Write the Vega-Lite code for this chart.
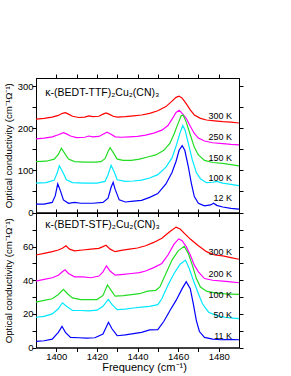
{
  "$schema": "https://vega.github.io/schema/vega-lite/v6.json",
  "padding": {"top": 73, "left": 2, "right": 2, "bottom": 0},
  "spacing": 0,
  "bounds": "flush",
  "config": {
    "font": "Arial",
    "view": {"stroke": "black", "strokeWidth": 1},
    "axis": {"domainColor": "black", "tickColor": "black", "labelColor": "black", "titleColor": "black", "labelFont": "Liberation Sans Narrow, Arial", "titleFont": "Arial", "labelFontSize": 9.5, "titleFontSize": 9.7, "titleFontWeight": "normal", "grid": false, "tickWidth": 1, "domainWidth": 1, "tickSize": 4},
    "text": {"font": "Arial"}
  },
  "resolve": {"scale": {"color": "independent"}},
  "datasets": {
    "top": [
      {"s":"300 K","f":1390,"v":222},{"s":"300 K","f":1394,"v":224},{"s":"300 K","f":1398,"v":227},{"s":"300 K","f":1401,"v":231},{"s":"300 K","f":1403,"v":236},{"s":"300 K","f":1404.5,"v":237.5},{"s":"300 K","f":1406,"v":234},{"s":"300 K","f":1408,"v":229},{"s":"300 K","f":1411,"v":226},{"s":"300 K","f":1414,"v":227},{"s":"300 K","f":1416,"v":230},{"s":"300 K","f":1418,"v":228},{"s":"300 K","f":1421,"v":229},{"s":"300 K","f":1423,"v":234},{"s":"300 K","f":1424.5,"v":237},{"s":"300 K","f":1426,"v":234},{"s":"300 K","f":1428,"v":229},{"s":"300 K","f":1430,"v":227},{"s":"300 K","f":1434,"v":228},{"s":"300 K","f":1438,"v":230},{"s":"300 K","f":1442,"v":232},{"s":"300 K","f":1446,"v":236},{"s":"300 K","f":1450,"v":242},{"s":"300 K","f":1454,"v":252},{"s":"300 K","f":1457,"v":265},{"s":"300 K","f":1459,"v":274},{"s":"300 K","f":1460.5,"v":277},{"s":"300 K","f":1462,"v":272},{"s":"300 K","f":1464,"v":259},{"s":"300 K","f":1466,"v":244},{"s":"300 K","f":1468,"v":232},{"s":"300 K","f":1471,"v":224},{"s":"300 K","f":1474,"v":220},{"s":"300 K","f":1478,"v":218},{"s":"300 K","f":1482,"v":216},{"s":"300 K","f":1486,"v":215},{"s":"300 K","f":1490,"v":213},
      {"s":"250 K","f":1390,"v":175},{"s":"250 K","f":1394,"v":177},{"s":"250 K","f":1398,"v":180},{"s":"250 K","f":1401,"v":185},{"s":"250 K","f":1403.5,"v":190},{"s":"250 K","f":1405,"v":187},{"s":"250 K","f":1407,"v":182},{"s":"250 K","f":1410,"v":178},{"s":"250 K","f":1414,"v":179},{"s":"250 K","f":1416,"v":182},{"s":"250 K","f":1418,"v":180},{"s":"250 K","f":1421,"v":181},{"s":"250 K","f":1423,"v":186},{"s":"250 K","f":1425,"v":191},{"s":"250 K","f":1427,"v":186},{"s":"250 K","f":1429,"v":180},{"s":"250 K","f":1432,"v":179},{"s":"250 K","f":1436,"v":180},{"s":"250 K","f":1440,"v":181},{"s":"250 K","f":1444,"v":184},{"s":"250 K","f":1448,"v":189},{"s":"250 K","f":1452,"v":196},{"s":"250 K","f":1455,"v":207},{"s":"250 K","f":1457,"v":222},{"s":"250 K","f":1459,"v":238},{"s":"250 K","f":1460.5,"v":243},{"s":"250 K","f":1462,"v":236},{"s":"250 K","f":1464,"v":224},{"s":"250 K","f":1466,"v":205},{"s":"250 K","f":1468,"v":188},{"s":"250 K","f":1470,"v":177},{"s":"250 K","f":1473,"v":170},{"s":"250 K","f":1477,"v":166},{"s":"250 K","f":1482,"v":164},{"s":"250 K","f":1486,"v":162},{"s":"250 K","f":1490,"v":161},
      {"s":"150 K","f":1390,"v":121},{"s":"150 K","f":1395,"v":122},{"s":"150 K","f":1399,"v":127},{"s":"150 K","f":1401,"v":138},{"s":"150 K","f":1402.5,"v":153},{"s":"150 K","f":1404,"v":142},{"s":"150 K","f":1406,"v":127},{"s":"150 K","f":1409,"v":121},{"s":"150 K","f":1414,"v":120},{"s":"150 K","f":1419,"v":120},{"s":"150 K","f":1422,"v":121},{"s":"150 K","f":1424,"v":128},{"s":"150 K","f":1425.5,"v":145},{"s":"150 K","f":1426.5,"v":154},{"s":"150 K","f":1428,"v":143},{"s":"150 K","f":1430,"v":127},{"s":"150 K","f":1433,"v":124},{"s":"150 K","f":1437,"v":124},{"s":"150 K","f":1441,"v":127},{"s":"150 K","f":1445,"v":132},{"s":"150 K","f":1449,"v":137},{"s":"150 K","f":1453,"v":148},{"s":"150 K","f":1456,"v":165},{"s":"150 K","f":1458,"v":187},{"s":"150 K","f":1460,"v":212},{"s":"150 K","f":1461.5,"v":230},{"s":"150 K","f":1462.5,"v":232},{"s":"150 K","f":1464,"v":215},{"s":"150 K","f":1466,"v":185},{"s":"150 K","f":1468,"v":155},{"s":"150 K","f":1470,"v":137},{"s":"150 K","f":1473,"v":124},{"s":"150 K","f":1477,"v":119},{"s":"150 K","f":1482,"v":117},{"s":"150 K","f":1486,"v":114},{"s":"150 K","f":1490,"v":111},
      {"s":"100 K","f":1390,"v":70},{"s":"100 K","f":1395,"v":71},{"s":"100 K","f":1399,"v":77},{"s":"100 K","f":1400.5,"v":95},{"s":"100 K","f":1401.5,"v":111},{"s":"100 K","f":1403,"v":98},{"s":"100 K","f":1405,"v":78},{"s":"100 K","f":1408,"v":71},{"s":"100 K","f":1414,"v":70},{"s":"100 K","f":1420,"v":70},{"s":"100 K","f":1424,"v":74},{"s":"100 K","f":1425.5,"v":90},{"s":"100 K","f":1427,"v":112},{"s":"100 K","f":1428.5,"v":97},{"s":"100 K","f":1430,"v":78},{"s":"100 K","f":1434,"v":74},{"s":"100 K","f":1438,"v":75},{"s":"100 K","f":1442,"v":77},{"s":"100 K","f":1446,"v":82},{"s":"100 K","f":1450,"v":90},{"s":"100 K","f":1454,"v":108},{"s":"100 K","f":1457,"v":130},{"s":"100 K","f":1459,"v":158},{"s":"100 K","f":1461,"v":190},{"s":"100 K","f":1462.3,"v":207},{"s":"100 K","f":1463.5,"v":195},{"s":"100 K","f":1465,"v":165},{"s":"100 K","f":1467,"v":125},{"s":"100 K","f":1469,"v":95},{"s":"100 K","f":1471,"v":80},{"s":"100 K","f":1474,"v":71},{"s":"100 K","f":1477,"v":72},{"s":"100 K","f":1479,"v":74},{"s":"100 K","f":1482,"v":70},{"s":"100 K","f":1486,"v":67},{"s":"100 K","f":1490,"v":64},
      {"s":"12 K","f":1390,"v":20},{"s":"12 K","f":1394,"v":20},{"s":"12 K","f":1398,"v":24},{"s":"12 K","f":1399.5,"v":40},{"s":"12 K","f":1400.7,"v":68},{"s":"12 K","f":1402,"v":52},{"s":"12 K","f":1403.5,"v":30},{"s":"12 K","f":1406,"v":22},{"s":"12 K","f":1409,"v":24},{"s":"12 K","f":1412,"v":22},{"s":"12 K","f":1418,"v":22},{"s":"12 K","f":1423,"v":24},{"s":"12 K","f":1425.5,"v":34},{"s":"12 K","f":1427,"v":60},{"s":"12 K","f":1428,"v":72},{"s":"12 K","f":1429,"v":55},{"s":"12 K","f":1431,"v":30},{"s":"12 K","f":1434,"v":25},{"s":"12 K","f":1438,"v":27},{"s":"12 K","f":1442,"v":29},{"s":"12 K","f":1446,"v":36},{"s":"12 K","f":1450,"v":45},{"s":"12 K","f":1454,"v":68},{"s":"12 K","f":1457,"v":95},{"s":"12 K","f":1459,"v":122},{"s":"12 K","f":1460.5,"v":148},{"s":"12 K","f":1462,"v":159},{"s":"12 K","f":1463.3,"v":148},{"s":"12 K","f":1465,"v":110},{"s":"12 K","f":1466.5,"v":70},{"s":"12 K","f":1468,"v":38},{"s":"12 K","f":1470,"v":22},{"s":"12 K","f":1473,"v":16},{"s":"12 K","f":1476,"v":18},{"s":"12 K","f":1477.5,"v":22},{"s":"12 K","f":1479,"v":17},{"s":"12 K","f":1482,"v":13},{"s":"12 K","f":1486,"v":10},{"s":"12 K","f":1490,"v":8}
    ],
    "bottom": [
      {"s":"300 K","f":1390,"v":55},{"s":"300 K","f":1394,"v":56},{"s":"300 K","f":1398,"v":57},{"s":"300 K","f":1401,"v":58},{"s":"300 K","f":1403,"v":59},{"s":"300 K","f":1404.8,"v":60.5},{"s":"300 K","f":1406.5,"v":58.5},{"s":"300 K","f":1409,"v":57.5},{"s":"300 K","f":1413,"v":58},{"s":"300 K","f":1417,"v":58.5},{"s":"300 K","f":1421,"v":59},{"s":"300 K","f":1423,"v":60},{"s":"300 K","f":1424.5,"v":60.8},{"s":"300 K","f":1426.5,"v":58.5},{"s":"300 K","f":1429,"v":57},{"s":"300 K","f":1432,"v":57.8},{"s":"300 K","f":1436,"v":58.5},{"s":"300 K","f":1440,"v":59.2},{"s":"300 K","f":1444,"v":60.5},{"s":"300 K","f":1448,"v":62.5},{"s":"300 K","f":1452,"v":65},{"s":"300 K","f":1456,"v":69},{"s":"300 K","f":1459,"v":71.6},{"s":"300 K","f":1461,"v":70.5},{"s":"300 K","f":1463,"v":68},{"s":"300 K","f":1466,"v":64.5},{"s":"300 K","f":1470,"v":60.5},{"s":"300 K","f":1474,"v":57},{"s":"300 K","f":1478,"v":55},{"s":"300 K","f":1482,"v":54.5},{"s":"300 K","f":1486,"v":53.5},{"s":"300 K","f":1490,"v":52.5},
      {"s":"200 K","f":1390,"v":39.5},{"s":"200 K","f":1394,"v":40.5},{"s":"200 K","f":1398,"v":41.5},{"s":"200 K","f":1401,"v":43},{"s":"200 K","f":1403,"v":45},{"s":"200 K","f":1404.3,"v":46.2},{"s":"200 K","f":1406,"v":44},{"s":"200 K","f":1409,"v":42},{"s":"200 K","f":1413,"v":42},{"s":"200 K","f":1417,"v":41.5},{"s":"200 K","f":1421,"v":42.5},{"s":"200 K","f":1423,"v":45},{"s":"200 K","f":1424.7,"v":48.6},{"s":"200 K","f":1426.5,"v":45.5},{"s":"200 K","f":1429,"v":43},{"s":"200 K","f":1433,"v":43.5},{"s":"200 K","f":1437,"v":44},{"s":"200 K","f":1441,"v":44.5},{"s":"200 K","f":1444,"v":45.5},{"s":"200 K","f":1448,"v":47.5},{"s":"200 K","f":1452,"v":50},{"s":"200 K","f":1455,"v":55},{"s":"200 K","f":1458,"v":61.5},{"s":"200 K","f":1460.3,"v":64.6},{"s":"200 K","f":1462,"v":63.5},{"s":"200 K","f":1464,"v":60},{"s":"200 K","f":1466,"v":55},{"s":"200 K","f":1468,"v":49},{"s":"200 K","f":1470,"v":45},{"s":"200 K","f":1473,"v":41},{"s":"200 K","f":1477,"v":40},{"s":"200 K","f":1482,"v":39.5},{"s":"200 K","f":1486,"v":39},{"s":"200 K","f":1490,"v":38.5},
      {"s":"100 K","f":1390,"v":27},{"s":"100 K","f":1394,"v":28},{"s":"100 K","f":1398,"v":29},{"s":"100 K","f":1401,"v":31.5},{"s":"100 K","f":1403.5,"v":34.6},{"s":"100 K","f":1405.5,"v":32},{"s":"100 K","f":1408,"v":29.5},{"s":"100 K","f":1412,"v":28.5},{"s":"100 K","f":1416,"v":28.5},{"s":"100 K","f":1420,"v":28.5},{"s":"100 K","f":1423,"v":31},{"s":"100 K","f":1425.2,"v":37.2},{"s":"100 K","f":1427,"v":34},{"s":"100 K","f":1429,"v":30.5},{"s":"100 K","f":1433,"v":30.8},{"s":"100 K","f":1437,"v":31.5},{"s":"100 K","f":1441,"v":32},{"s":"100 K","f":1445,"v":33.5},{"s":"100 K","f":1449,"v":34},{"s":"100 K","f":1451,"v":36},{"s":"100 K","f":1454,"v":44},{"s":"100 K","f":1457,"v":52},{"s":"100 K","f":1460,"v":57.5},{"s":"100 K","f":1463,"v":60.2},{"s":"100 K","f":1465,"v":56},{"s":"100 K","f":1467,"v":49},{"s":"100 K","f":1469,"v":41},{"s":"100 K","f":1471,"v":36},{"s":"100 K","f":1474,"v":33.5},{"s":"100 K","f":1478,"v":32.5},{"s":"100 K","f":1482,"v":32},{"s":"100 K","f":1486,"v":31.8},{"s":"100 K","f":1490,"v":31.6},
      {"s":"50 K","f":1390,"v":18},{"s":"50 K","f":1394,"v":18.5},{"s":"50 K","f":1398,"v":20},{"s":"50 K","f":1401,"v":23},{"s":"50 K","f":1403,"v":26.6},{"s":"50 K","f":1405,"v":24.5},{"s":"50 K","f":1408,"v":22},{"s":"50 K","f":1412,"v":22},{"s":"50 K","f":1416,"v":21.8},{"s":"50 K","f":1420,"v":22.2},{"s":"50 K","f":1423,"v":24.5},{"s":"50 K","f":1425.6,"v":28.6},{"s":"50 K","f":1427.5,"v":25.5},{"s":"50 K","f":1430,"v":22.5},{"s":"50 K","f":1434,"v":22.8},{"s":"50 K","f":1438,"v":23.5},{"s":"50 K","f":1442,"v":24},{"s":"50 K","f":1446,"v":24.5},{"s":"50 K","f":1450,"v":25.5},{"s":"50 K","f":1452,"v":29},{"s":"50 K","f":1455,"v":37},{"s":"50 K","f":1458,"v":44},{"s":"50 K","f":1461,"v":49.5},{"s":"50 K","f":1463.6,"v":52},{"s":"50 K","f":1465.5,"v":47},{"s":"50 K","f":1467.5,"v":40},{"s":"50 K","f":1470,"v":32},{"s":"50 K","f":1472,"v":26},{"s":"50 K","f":1475,"v":21},{"s":"50 K","f":1479,"v":19},{"s":"50 K","f":1483,"v":18},{"s":"50 K","f":1487,"v":17.5},{"s":"50 K","f":1490,"v":17.2},
      {"s":"11 K","f":1390,"v":3.6},{"s":"11 K","f":1394,"v":4},{"s":"11 K","f":1398,"v":5},{"s":"11 K","f":1401,"v":9},{"s":"11 K","f":1402.8,"v":12.6},{"s":"11 K","f":1404.5,"v":9},{"s":"11 K","f":1407,"v":6},{"s":"11 K","f":1411,"v":5.8},{"s":"11 K","f":1415,"v":5.6},{"s":"11 K","f":1419,"v":5.8},{"s":"11 K","f":1423,"v":8},{"s":"11 K","f":1425.7,"v":15},{"s":"11 K","f":1427.5,"v":11},{"s":"11 K","f":1430,"v":7},{"s":"11 K","f":1434,"v":7.5},{"s":"11 K","f":1438,"v":8.3},{"s":"11 K","f":1442,"v":9},{"s":"11 K","f":1446,"v":10.5},{"s":"11 K","f":1450,"v":10.6},{"s":"11 K","f":1453,"v":15.6},{"s":"11 K","f":1456,"v":22},{"s":"11 K","f":1459,"v":28},{"s":"11 K","f":1462,"v":35},{"s":"11 K","f":1464,"v":39.2},{"s":"11 K","f":1466,"v":35},{"s":"11 K","f":1467.5,"v":26},{"s":"11 K","f":1469,"v":16},{"s":"11 K","f":1470.5,"v":9.5},{"s":"11 K","f":1473,"v":6},{"s":"11 K","f":1477,"v":5},{"s":"11 K","f":1481,"v":4.6},{"s":"11 K","f":1485,"v":4.8},{"s":"11 K","f":1490,"v":4.6}
    ],
    "topLabels": [
      {"s":"300 K","f":1486.6,"v":229},{"s":"250 K","f":1486.6,"v":179},{"s":"150 K","f":1486.6,"v":130},{"s":"100 K","f":1486.6,"v":81},{"s":"12 K","f":1486.6,"v":34}
    ],
    "bottomLabels": [
      {"s":"300 K","f":1486.6,"v":57},{"s":"200 K","f":1486.6,"v":43.6},{"s":"100 K","f":1486.6,"v":31},{"s":"50 K","f":1486.6,"v":19.6},{"s":"11 K","f":1486.6,"v":7}
    ],
    "topTitle": [{"t":"κ-(BEDT-TTF)₂Cu₂(CN)₃","f":1394.6,"v":284}],
    "bottomTitle": [{"t":"κ-(BEDT-STF)₂Cu₂(CN)₃","f":1394.6,"v":73}]
  },
  "vconcat": [
    {
      "width": 203, "height": 134.5,
      "resolve": {"axis": {"x": "independent", "y": "independent"}},
      "layer": [
        {
          "data": {"name": "top"},
          "mark": {"type": "line", "strokeWidth": 1.2},
          "encoding": {
            "x": {"field": "f", "type": "quantitative", "scale": {"domain": [1390, 1490], "nice": false, "zero": false},
                  "axis": {"orient": "bottom", "values": [1400,1410,1420,1430,1440,1450,1460,1470,1480], "labels": false, "title": null,
                           "encode": {"ticks": {"update": {"y2": {"signal": "datum.value % 20 === 0 ? -4 : -2.5"}}}}}},
            "y": {"field": "v", "type": "quantitative", "scale": {"domain": [0, 320], "nice": false, "zero": false},
                  "axis": {"orient": "left", "values": [0,50,100,150,200,250,300], "labelExpr": "datum.value % 100 === 0 ? datum.label : ''", "title": "Optical conductivity (cm⁻¹Ω⁻¹)", "titleX": -23, "labelPadding": -1,
                           "encode": {"ticks": {"update": {"x2": {"signal": "datum.value % 100 === 0 ? 4 : 2.5"}}}}}},
            "color": {"field": "s", "type": "nominal", "sort": null, "scale": {"domain": ["300 K","250 K","150 K","100 K","12 K"], "range": ["#ff0000","#ff00ff","#22dd22","#00e8ff","#0000ff"]}, "legend": null}
          }
        },
        {
          "data": {"name": "topLabels"},
          "mark": {"type": "text", "align": "right", "baseline": "middle", "fontSize": 9, "color": "black"},
          "encoding": {
            "x": {"field": "f", "type": "quantitative", "scale": {"domain": [1390, 1490], "nice": false, "zero": false},
                  "axis": {"orient": "top", "values": [1400,1410,1420,1430,1440,1450,1460,1470,1480], "labels": false, "title": null,
                           "encode": {"ticks": {"update": {"y2": {"signal": "datum.value % 20 === 0 ? 4 : 2.5"}}}}}},
            "y": {"field": "v", "type": "quantitative", "scale": {"domain": [0, 320], "nice": false, "zero": false},
                  "axis": {"orient": "right", "values": [0,50,100,150,200,250,300], "labels": false, "title": null,
                           "encode": {"ticks": {"update": {"x2": {"signal": "datum.value % 100 === 0 ? -4 : -2.5"}}}}}},
            "text": {"field": "s"}
          }
        },
        {
          "data": {"name": "topTitle"},
          "mark": {"type": "text", "align": "left", "baseline": "middle", "fontSize": 10.5, "color": "black"},
          "encoding": {
            "x": {"field": "f", "type": "quantitative", "scale": {"domain": [1390, 1490], "nice": false, "zero": false}, "axis": null},
            "y": {"field": "v", "type": "quantitative", "scale": {"domain": [0, 320], "nice": false, "zero": false}, "axis": null},
            "text": {"field": "t"}
          }
        }
      ]
    },
    {
      "width": 203, "height": 134.5,
      "resolve": {"axis": {"x": "independent", "y": "independent"}},
      "layer": [
        {
          "data": {"name": "bottom"},
          "mark": {"type": "line", "strokeWidth": 1.2},
          "encoding": {
            "x": {"field": "f", "type": "quantitative", "scale": {"domain": [1390, 1490], "nice": false, "zero": false},
                  "axis": {"orient": "bottom", "values": [1400,1410,1420,1430,1440,1450,1460,1470,1480], "labelExpr": "datum.value % 20 === 0 ? datum.label : ''", "format": "d", "title": "Frequency (cm⁻¹)", "titleFont": "Liberation Sans Narrow, Arial", "titleFontSize": 11, "titleX": 108, "titlePadding": 0, "labelPadding": 0,
                           "encode": {"ticks": {"update": {"y2": {"signal": "datum.value % 20 === 0 ? -4 : -2.5"}}}}}},
            "y": {"field": "v", "type": "quantitative", "scale": {"domain": [0, 80], "nice": false, "zero": false},
                  "axis": {"orient": "left", "values": [0,10,20,30,40,50,60,70], "labelExpr": "datum.value % 20 === 0 ? datum.label : ''", "title": "Optical conductivity (cm⁻¹Ω⁻¹)", "titleX": -23, "labelPadding": -1,
                           "encode": {"ticks": {"update": {"x2": {"signal": "datum.value % 20 === 0 ? 4 : 2.5"}}}}}},
            "color": {"field": "s", "type": "nominal", "sort": null, "scale": {"domain": ["300 K","200 K","100 K","50 K","11 K"], "range": ["#ff0000","#ff00ff","#22dd22","#00e8ff","#0000ff"]}, "legend": null}
          }
        },
        {
          "data": {"name": "bottomLabels"},
          "mark": {"type": "text", "align": "right", "baseline": "middle", "fontSize": 9, "color": "black"},
          "encoding": {
            "x": {"field": "f", "type": "quantitative", "scale": {"domain": [1390, 1490], "nice": false, "zero": false},
                  "axis": {"orient": "top", "values": [1400,1410,1420,1430,1440,1450,1460,1470,1480], "labels": false, "title": null,
                           "encode": {"ticks": {"update": {"y2": {"signal": "datum.value % 20 === 0 ? 4 : 2.5"}}}}}},
            "y": {"field": "v", "type": "quantitative", "scale": {"domain": [0, 80], "nice": false, "zero": false},
                  "axis": {"orient": "right", "values": [0,10,20,30,40,50,60,70], "labels": false, "title": null,
                           "encode": {"ticks": {"update": {"x2": {"signal": "datum.value % 20 === 0 ? -4 : -2.5"}}}}}},
            "text": {"field": "s"}
          }
        },
        {
          "data": {"name": "bottomTitle"},
          "mark": {"type": "text", "align": "left", "baseline": "middle", "fontSize": 10.5, "color": "black"},
          "encoding": {
            "x": {"field": "f", "type": "quantitative", "scale": {"domain": [1390, 1490], "nice": false, "zero": false}, "axis": null},
            "y": {"field": "v", "type": "quantitative", "scale": {"domain": [0, 80], "nice": false, "zero": false}, "axis": null},
            "text": {"field": "t"}
          }
        }
      ]
    }
  ]
}
